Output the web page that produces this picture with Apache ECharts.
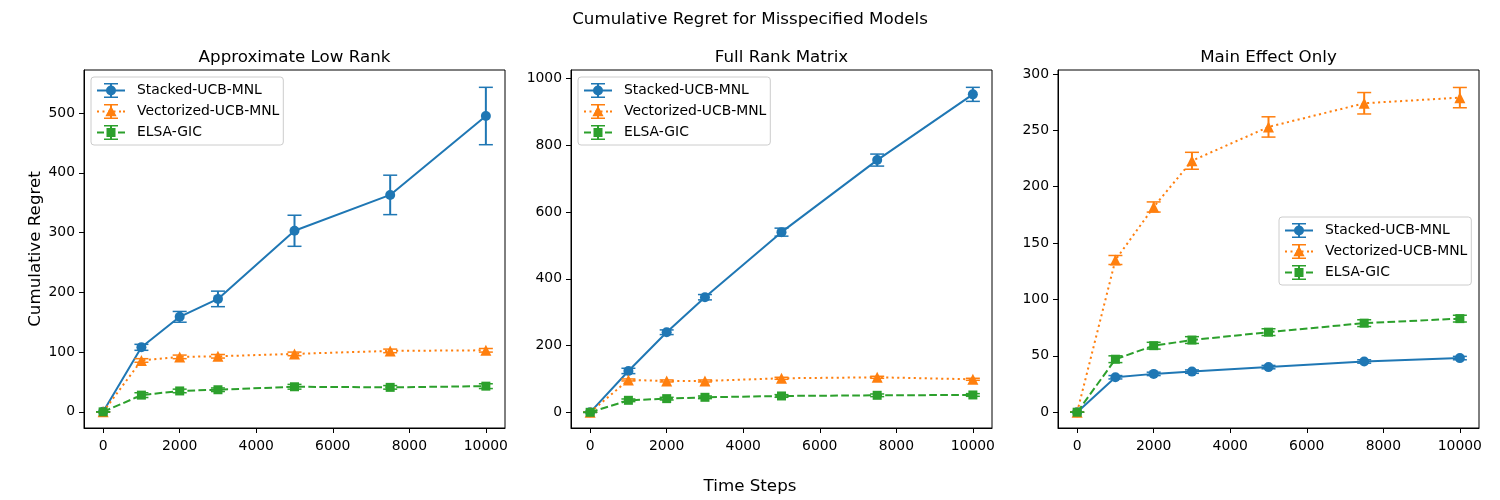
<!DOCTYPE html>
<html>
<head>
<meta charset="utf-8">
<script src="https://cdn.jsdelivr.net/npm/echarts@6/dist/echarts.min.js"></script>
<style>
html,body{margin:0;padding:0;background:#fff;}
#chart{width:1500px;height:500px;}
</style>
</head>
<body>
<div id="chart"></div>
<script>
// ---- Data ----
const timeSteps = [0, 1000, 2000, 3000, 5000, 7500, 10000];
const seriesNames = ['Stacked-UCB-MNL', 'Vectorized-UCB-MNL', 'ELSA-GIC'];
const panelTitles = ['Approximate Low Rank', 'Full Rank Matrix', 'Main Effect Only'];

// Panel 1: Approximate Low Rank
const stacked1 = [0, 108, 159, 189, 303, 363, 495];
const stacked1Err = [0, 5, 9, 13, 26, 33, 48];
const vector1 = [0, 86, 92, 93, 97, 102, 103];
const vector1Err = [0, 3, 3, 3, 3, 3, 3];
const elsa1 = [0, 28, 35, 37, 42, 41, 43];
const elsa1Err = [0, 4, 3, 3, 4, 3, 4];

// Panel 2: Full Rank Matrix
const stacked2 = [0, 124, 240, 345, 540, 756, 953];
const stacked2Err = [0, 8, 7, 8, 12, 18, 21];
const vector2 = [0, 97, 94, 94, 102, 105, 99];
const vector2Err = [0, 3, 3, 3, 3, 3, 3];
const elsa2 = [0, 36, 41, 45, 49, 51, 52];
const elsa2Err = [0, 4, 4, 4, 4, 4, 4];

// Panel 3: Main Effect Only
const stacked3 = [0, 31, 34, 36, 40, 45, 48];
const stacked3Err = [0, 1.5, 1.5, 1.5, 1.5, 1.5, 1.5];
const vector3 = [0, 135, 182, 223, 253, 274, 279];
const vector3Err = [0, 4, 4.5, 7.5, 9, 9.5, 9];
const elsa3 = [0, 47, 59, 64, 71, 79, 83];
const elsa3Err = [0, 3, 3, 3, 3, 3, 3];

// Tick labels
const xTicks = [0, 2000, 4000, 6000, 8000, 10000];
const yTicks1 = [0, 100, 200, 300, 400, 500];
const yTicks2 = [0, 200, 400, 600, 800, 1000];
const yTicks3 = [0, 50, 100, 150, 200, 250, 300];

// ---- Styling / layout ----
const FONT = 'DejaVu Sans';
const colors = ['#1f77b4', '#ff7f0e', '#2ca02c'];
const symbols = ['circle', 'triangle', 'rect'];
const symbolSizes = [10, 11, 9];
const lineTypes = ['solid', [2.1, 3.4], [7.7, 3.3]];
const gridLefts = [84, 571, 1058];
const gridWidth = 421;
const gridTop = 70;
const gridHeight = 358;
const yRanges = [[-27, 572], [-47, 1026], [-14, 303.5]];
const yTickSets = [yTicks1, yTicks2, yTicks3];
const legendPos = [[91, 77], [578, 77], [1279, 217]];

// Legend icons (line + error bar + marker), drawn in a 28x15 box
function rect(x, y, w, h) { return 'M' + x + ' ' + y + 'h' + w + 'v' + h + 'h' + (-w) + 'Z'; }
const errIcon = rect(13, 0, 2, 15) + rect(7, 0, 14, 1.5) + rect(7, 13.5, 14, 1.5);
const legendIcons = [
  'path://' + rect(0, 6.5, 28, 2) + errIcon + 'M19 7.5A5 5 0 1 1 9 7.5A5 5 0 1 1 19 7.5Z',
  'path://' + [0, 5.5, 11, 16.5, 22, 26].map(x => rect(x, 6.5, 2, 2)).join('') + errIcon + 'M14 1.8L19.6 12.2L8.4 12.2Z',
  'path://' + rect(0, 6.5, 7, 2) + rect(10.5, 6.5, 7, 2) + rect(21, 6.5, 7, 2) + errIcon + rect(9.5, 3, 9, 9)
];

const panels = [
  [[stacked1, stacked1Err], [vector1, vector1Err], [elsa1, elsa1Err]],
  [[stacked2, stacked2Err], [vector2, vector2Err], [elsa2, elsa2Err]],
  [[stacked3, stacked3Err], [vector3, vector3Err], [elsa3, elsa3Err]]
];

function errRender(color) {
  return function (params, api) {
    const x = api.value(0), lo = api.value(1), hi = api.value(2);
    const p1 = api.coord([x, lo]);
    const p2 = api.coord([x, hi]);
    const w = 7;
    const st = { stroke: color, lineWidth: 2 };
    const cs = { stroke: color, lineWidth: 1.5 };
    return {
      type: 'group',
      children: [
        { type: 'line', shape: { x1: p1[0], y1: p1[1], x2: p2[0], y2: p2[1] }, style: st },
        { type: 'line', shape: { x1: p1[0] - w, y1: p1[1], x2: p1[0] + w, y2: p1[1] }, style: cs },
        { type: 'line', shape: { x1: p2[0] - w, y1: p2[1], x2: p2[0] + w, y2: p2[1] }, style: cs }
      ]
    };
  };
}

const plain = v => String(v);
const grids = [], xAxes = [], yAxes = [], series = [], legends = [];
const titles = [
  { text: 'Cumulative Regret for Misspecified Models', left: 750, top: 11, textAlign: 'center', padding: 0,
    textStyle: { fontFamily: FONT, fontSize: 16.7, fontWeight: 'normal', color: '#000' } },
  { text: 'Time Steps', left: 750, top: 478, textAlign: 'center', padding: 0,
    textStyle: { fontFamily: FONT, fontSize: 16.7, fontWeight: 'normal', color: '#000' } }
];

panels.forEach((panel, pi) => {
  grids.push({ left: gridLefts[pi], top: gridTop, width: gridWidth, height: gridHeight,
    show: true, borderColor: '#000', borderWidth: 1, backgroundColor: 'transparent', containLabel: false });
  titles.push({ text: panelTitles[pi], left: gridLefts[pi] + gridWidth / 2, top: 49, textAlign: 'center', padding: 0,
    textStyle: { fontFamily: FONT, fontSize: 16.7, fontWeight: 'normal', color: '#000' } });
  xAxes.push({
    type: 'value', gridIndex: pi, min: -500, max: 10500,
    axisLine: { show: true, onZero: false, lineStyle: { color: '#000', width: 1 } },
    axisTick: { show: true, inside: false, length: 5, customValues: xTicks, lineStyle: { color: '#000', width: 1 } },
    axisLabel: { show: true, margin: 11, customValues: xTicks, formatter: plain, color: '#000', fontFamily: FONT, fontSize: 13.9 },
    splitLine: { show: false }
  });
  yAxes.push({
    type: 'value', gridIndex: pi, min: yRanges[pi][0], max: yRanges[pi][1],
    name: pi === 0 ? 'Cumulative Regret' : '', nameLocation: 'middle', nameGap: 38.5, nameRotate: 90,
    nameTextStyle: { fontFamily: FONT, fontSize: 16.7, color: '#000' },
    axisLine: { show: true, onZero: false, lineStyle: { color: '#000', width: 1 } },
    axisTick: { show: true, inside: false, length: 5, customValues: yTickSets[pi], lineStyle: { color: '#000', width: 1 } },
    axisLabel: { show: true, margin: 9, customValues: yTickSets[pi], formatter: plain, color: '#000', fontFamily: FONT, fontSize: 13.9 },
    splitLine: { show: false }
  });
  panel.forEach((pair, si) => {
    const vals = pair[0], errs = pair[1];
    series.push({
      type: 'custom', name: 'err-' + pi + '-' + si, xAxisIndex: pi, yAxisIndex: pi,
      renderItem: errRender(colors[si]),
      data: timeSteps.map((t, i) => [t, vals[i] - errs[i], vals[i] + errs[i]]),
      z: 2 + si * 2, silent: true, clip: false
    });
    series.push({
      type: 'line', name: seriesNames[si], xAxisIndex: pi, yAxisIndex: pi,
      data: timeSteps.map((t, i) => [t, vals[i]]),
      symbol: symbols[si], symbolSize: symbolSizes[si], showAllSymbol: true,
      lineStyle: { color: colors[si], width: 2, type: lineTypes[si] },
      itemStyle: { color: colors[si], borderWidth: 0 },
      z: 3 + si * 2, animation: false, silent: true
    });
  });
  legends.push({
    left: legendPos[pi][0], top: legendPos[pi][1], orient: 'vertical',
    itemWidth: 28, itemHeight: 15, itemGap: 6,
    padding: [6, 4, 5, 6], backgroundColor: 'rgba(255,255,255,0.8)',
    borderColor: '#cccccc', borderWidth: 1, borderRadius: 3,
    itemStyle: { borderWidth: 0 },
    textStyle: { fontFamily: FONT, fontSize: 13.9, color: '#000', padding: [0, 0, 0, 7] },
    data: seriesNames.map((n, k) => ({ name: n, icon: legendIcons[k] })),
    selectedMode: false
  });
});

const chart = echarts.init(document.getElementById('chart'), null, { renderer: 'canvas' });
chart.setOption({
  animation: false,
  backgroundColor: '#fff',
  title: titles,
  grid: grids,
  xAxis: xAxes,
  yAxis: yAxes,
  legend: legends,
  series: series
});
</script>
</body>
</html>
